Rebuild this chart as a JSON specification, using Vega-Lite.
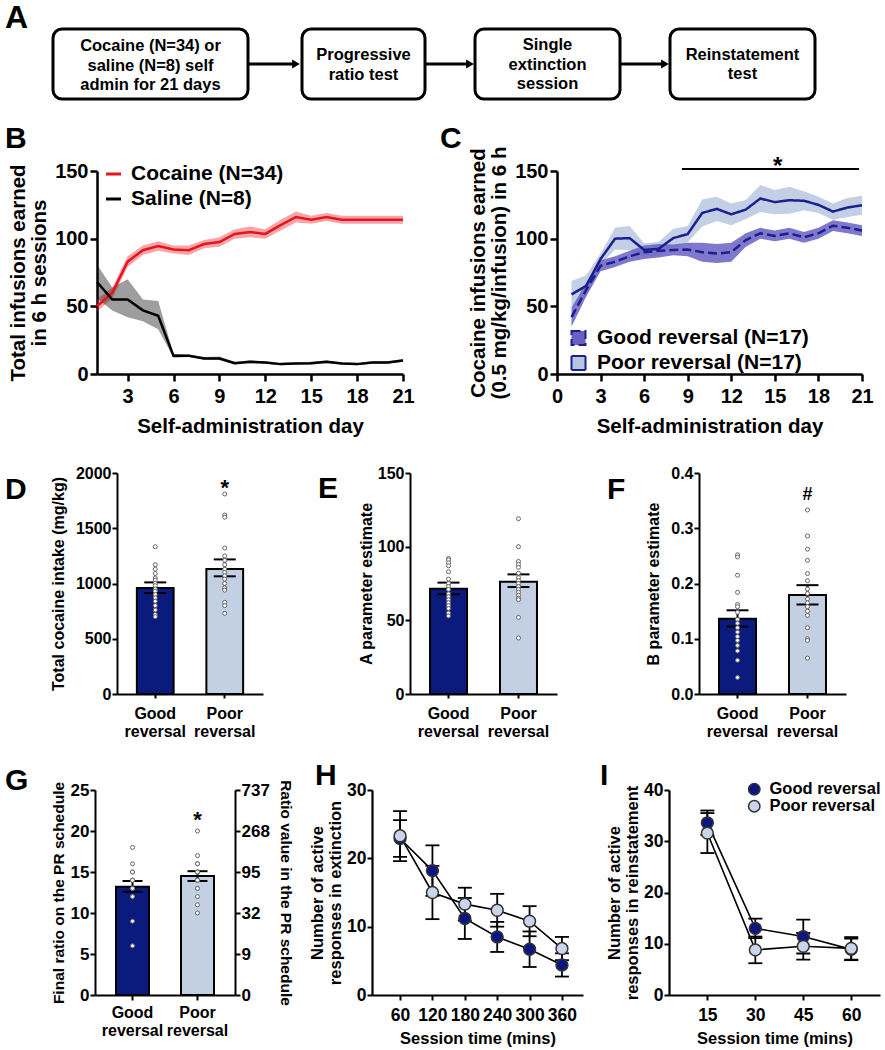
{
  "$schema": "https://vega.github.io/schema/vega-lite/v6.json",
  "padding": {"left": 5, "top": 0, "right": 0, "bottom": 0},
  "background": "white",
  "spacing": 22,
  "resolve": {"scale": {"color": "independent", "fill": "independent", "strokeDash": "independent"}},
  "config": {
    "font": "Liberation Sans",
    "view": {"stroke": null},
    "axis": {"domainColor": "black", "tickColor": "black", "labelColor": "black", "titleColor": "black", "labelFontWeight": "bold", "titleFontWeight": "bold", "grid": false, "labelFont": "Liberation Sans", "titleFont": "Liberation Sans"},
    "legend": {"labelFont": "Liberation Sans", "labelColor": "black", "labelLimit": 400},
    "title": {"font": "Liberation Sans", "color": "black"}
  },
  "vconcat": [
    {
      "width": 880, "height": 100,
      "layer": [
        {
          "data": {"values": [
            {"x1": 48, "x2": 243, "y1": 29, "y2": 99},
            {"x1": 297, "x2": 420, "y1": 29, "y2": 99},
            {"x1": 470, "x2": 615, "y1": 29, "y2": 99},
            {"x1": 665, "x2": 810, "y1": 29, "y2": 99}
          ]},
          "mark": {"type": "rect", "fill": "white", "stroke": "black", "strokeWidth": 3, "cornerRadius": 9},
          "encoding": {
            "x": {"field": "x1", "type": "quantitative", "scale": {"domain": [0, 880], "nice": false, "zero": false}, "axis": null},
            "x2": {"field": "x2"},
            "y": {"field": "y1", "type": "quantitative", "scale": {"domain": [0, 100], "nice": false, "zero": false, "reverse": true}, "axis": null},
            "y2": {"field": "y2"}
          }
        },
        {
          "data": {"values": [
            {"x1": 243, "x2": 289, "y": 64},
            {"x1": 420, "x2": 463, "y": 64},
            {"x1": 615, "x2": 658, "y": 64}
          ]},
          "mark": {"type": "rule", "strokeWidth": 3, "color": "black"},
          "encoding": {
            "x": {"field": "x1", "type": "quantitative"},
            "x2": {"field": "x2"},
            "y": {"field": "y", "type": "quantitative"}
          }
        },
        {
          "data": {"values": [
            {"x": 291, "y": 64},
            {"x": 465, "y": 64},
            {"x": 660, "y": 64}
          ]},
          "mark": {"type": "point", "shape": "triangle-right", "filled": true, "color": "black", "size": 80, "opacity": 1},
          "encoding": {
            "x": {"field": "x", "type": "quantitative"},
            "y": {"field": "y", "type": "quantitative"}
          }
        },
        {
          "data": {"values": [
            {"x": 145.5, "y": 46, "t": "Cocaine (N=34) or\nsaline (N=8) self\nadmin for 21 days"},
            {"x": 358.5, "y": 55, "t": "Progressive\nratio test"},
            {"x": 542.5, "y": 45, "t": "Single\nextinction\nsession"},
            {"x": 737.5, "y": 54.5, "t": "Reinstatement\ntest"}
          ]},
          "mark": {"type": "text", "lineBreak": "\n", "fontSize": 16.5, "fontWeight": "bold", "lineHeight": 19.5, "align": "center", "baseline": "middle", "color": "black"},
          "encoding": {
            "x": {"field": "x", "type": "quantitative"},
            "y": {"field": "y", "type": "quantitative"},
            "text": {"field": "t"}
          }
        },
        {
          "data": {"values": [{"x": 0, "y": 17.5, "t": "A"}]},
          "mark": {"type": "text", "fontSize": 32, "fontWeight": "bold", "align": "left", "baseline": "middle", "color": "black"},
          "encoding": {
            "x": {"field": "x", "type": "quantitative"},
            "y": {"field": "y", "type": "quantitative"},
            "text": {"field": "t"}
          }
        }
      ]
    },
    {
      "bounds": "flush",
      "spacing": 0,
      "resolve": {"scale": {"color": "independent", "fill": "independent", "strokeDash": "independent"}},
      "hconcat": [
        {"width": 92, "height": 1, "data": {"values": [{}]}, "mark": {"type": "text", "text": ""}},
        {
          "width": 306, "height": 203,
          "title": {"text": "B", "anchor": "start", "frame": "group", "dx": -92, "dy": 16.5, "offset": 0, "baseline": "alphabetic", "fontSize": 30, "fontWeight": "bold"},
          "data": {"values": [
            {"g": "Cocaine (N=34)", "d": 1, "m": 50, "lo": 46, "hi": 55},
            {"g": "Cocaine (N=34)", "d": 2, "m": 60, "lo": 56, "hi": 64},
            {"g": "Cocaine (N=34)", "d": 3, "m": 83, "lo": 79, "hi": 87},
            {"g": "Cocaine (N=34)", "d": 4, "m": 91.5, "lo": 88, "hi": 95},
            {"g": "Cocaine (N=34)", "d": 5, "m": 94.5, "lo": 91, "hi": 98},
            {"g": "Cocaine (N=34)", "d": 6, "m": 92, "lo": 89, "hi": 95},
            {"g": "Cocaine (N=34)", "d": 7, "m": 91.5, "lo": 88, "hi": 95},
            {"g": "Cocaine (N=34)", "d": 8, "m": 96, "lo": 93, "hi": 99},
            {"g": "Cocaine (N=34)", "d": 9, "m": 97.5, "lo": 94, "hi": 101},
            {"g": "Cocaine (N=34)", "d": 10, "m": 103.5, "lo": 100, "hi": 107},
            {"g": "Cocaine (N=34)", "d": 11, "m": 105, "lo": 101, "hi": 109},
            {"g": "Cocaine (N=34)", "d": 12, "m": 103.5, "lo": 100, "hi": 107},
            {"g": "Cocaine (N=34)", "d": 13, "m": 110, "lo": 106, "hi": 114},
            {"g": "Cocaine (N=34)", "d": 14, "m": 116, "lo": 112, "hi": 120},
            {"g": "Cocaine (N=34)", "d": 15, "m": 114, "lo": 111, "hi": 117},
            {"g": "Cocaine (N=34)", "d": 16, "m": 116, "lo": 113, "hi": 119},
            {"g": "Cocaine (N=34)", "d": 17, "m": 114, "lo": 111, "hi": 117},
            {"g": "Cocaine (N=34)", "d": 18, "m": 114, "lo": 111, "hi": 117},
            {"g": "Cocaine (N=34)", "d": 19, "m": 114, "lo": 111, "hi": 117},
            {"g": "Cocaine (N=34)", "d": 20, "m": 114, "lo": 111, "hi": 117},
            {"g": "Cocaine (N=34)", "d": 21, "m": 114, "lo": 111, "hi": 117},
            {"g": "Saline (N=8)", "d": 1, "m": 68, "lo": 56, "hi": 81},
            {"g": "Saline (N=8)", "d": 2, "m": 55, "lo": 47, "hi": 64},
            {"g": "Saline (N=8)", "d": 3, "m": 55, "lo": 42, "hi": 70},
            {"g": "Saline (N=8)", "d": 4, "m": 47, "lo": 39, "hi": 55},
            {"g": "Saline (N=8)", "d": 5, "m": 43, "lo": 33, "hi": 54},
            {"g": "Saline (N=8)", "d": 6, "m": 13.4, "lo": 12, "hi": 15},
            {"g": "Saline (N=8)", "d": 7, "m": 13.4, "lo": 12.5, "hi": 14.5},
            {"g": "Saline (N=8)", "d": 8, "m": 11.5, "lo": 10.5, "hi": 12.5},
            {"g": "Saline (N=8)", "d": 9, "m": 11.5, "lo": 10.5, "hi": 13},
            {"g": "Saline (N=8)", "d": 10, "m": 8, "lo": 7, "hi": 9},
            {"g": "Saline (N=8)", "d": 11, "m": 9, "lo": 8, "hi": 10},
            {"g": "Saline (N=8)", "d": 12, "m": 8.5, "lo": 7.5, "hi": 9.5},
            {"g": "Saline (N=8)", "d": 13, "m": 7.3, "lo": 6.5, "hi": 8.2},
            {"g": "Saline (N=8)", "d": 14, "m": 7.8, "lo": 7, "hi": 8.6},
            {"g": "Saline (N=8)", "d": 15, "m": 8, "lo": 7, "hi": 9},
            {"g": "Saline (N=8)", "d": 16, "m": 9, "lo": 8, "hi": 10},
            {"g": "Saline (N=8)", "d": 17, "m": 7.8, "lo": 7, "hi": 8.6},
            {"g": "Saline (N=8)", "d": 18, "m": 7.3, "lo": 6.5, "hi": 8.2},
            {"g": "Saline (N=8)", "d": 19, "m": 8.5, "lo": 7.5, "hi": 9.5},
            {"g": "Saline (N=8)", "d": 20, "m": 8.5, "lo": 7.5, "hi": 9.5},
            {"g": "Saline (N=8)", "d": 21, "m": 10, "lo": 9, "hi": 11}
          ]},
          "encoding": {
            "x": {"field": "d", "type": "quantitative", "title": ["Self-administration day", " "], "scale": {"domain": [1, 21], "nice": false, "zero": false},
              "axis": {"values": [3, 6, 9, 12, 15, 18, 21], "labelFontSize": 20, "titleFontSize": 20.5, "titleLineHeight": 6, "domainWidth": 2.5, "tickWidth": 2.5, "tickSize": 7, "labelPadding": 5.5, "titlePadding": 10, "labelFlush": false}}
          },
          "layer": [
            {
              "mark": {"type": "area", "opacity": 0.38},
              "encoding": {
                "y": {"field": "lo", "type": "quantitative", "title": ["Total infusions earned", "in 6 h sessions"], "scale": {"domain": [0, 150], "nice": false},
                  "axis": {"values": [0, 50, 100, 150], "labelFontSize": 20, "titleFontSize": 20.5, "domainWidth": 2.5, "tickWidth": 2.5, "tickSize": 7, "labelPadding": 2, "titlePadding": 5, "titleLineHeight": 21}},
                "y2": {"field": "hi"},
                "fill": {"field": "g", "type": "nominal", "scale": {"domain": ["Cocaine (N=34)", "Saline (N=8)"], "range": ["#e8141c", "#000000"]},
                  "legend": {"orient": "none", "legendX": 6, "legendY": -7.5, "title": null, "symbolType": "stroke", "symbolStrokeWidth": 3, "symbolSize": 225, "symbolOpacity": 1, "labelFontSize": 21, "labelFontWeight": "bold", "labelOffset": 7, "rowPadding": 3, "padding": 0}}
              }
            },
            {
              "mark": {"type": "line", "strokeWidth": 2.5},
              "encoding": {
                "y": {"field": "m", "type": "quantitative", "title": ["Total infusions earned", "in 6 h sessions"]},
                "color": {"field": "g", "type": "nominal", "scale": {"domain": ["Cocaine (N=34)", "Saline (N=8)"], "range": ["#e8141c", "#000000"]}, "legend": null}
              }
            }
          ]
        },
        {"width": 154, "height": 1, "data": {"values": [{}]}, "mark": {"type": "text", "text": ""}},
        {
          "width": 305, "height": 203,
          "title": {"text": "C", "anchor": "start", "frame": "group", "dx": -117, "dy": 31.5, "offset": 0, "baseline": "alphabetic", "fontSize": 30, "fontWeight": "bold"},
          "layer": [
            {
              "data": {"values": [
                {"g": "Poor reversal (N=17)", "d": 1, "m": 58.8, "lo": 48.8, "hi": 68.8},
                {"g": "Poor reversal (N=17)", "d": 2, "m": 65, "lo": 57, "hi": 73},
                {"g": "Poor reversal (N=17)", "d": 3, "m": 85, "lo": 81, "hi": 89},
                {"g": "Poor reversal (N=17)", "d": 4, "m": 100, "lo": 92, "hi": 108},
                {"g": "Poor reversal (N=17)", "d": 5, "m": 100.4, "lo": 91.4, "hi": 109.4},
                {"g": "Poor reversal (N=17)", "d": 6, "m": 91.7, "lo": 86.7, "hi": 96.7},
                {"g": "Poor reversal (N=17)", "d": 7, "m": 92.5, "lo": 87.5, "hi": 97.5},
                {"g": "Poor reversal (N=17)", "d": 8, "m": 100.4, "lo": 93.4, "hi": 107.4},
                {"g": "Poor reversal (N=17)", "d": 9, "m": 103.4, "lo": 97.4, "hi": 109.4},
                {"g": "Poor reversal (N=17)", "d": 10, "m": 119, "lo": 109, "hi": 129},
                {"g": "Poor reversal (N=17)", "d": 11, "m": 122, "lo": 113, "hi": 131},
                {"g": "Poor reversal (N=17)", "d": 12, "m": 118, "lo": 110, "hi": 126},
                {"g": "Poor reversal (N=17)", "d": 13, "m": 121.5, "lo": 114.5, "hi": 128.5},
                {"g": "Poor reversal (N=17)", "d": 14, "m": 129.7, "lo": 119.7, "hi": 139.7},
                {"g": "Poor reversal (N=17)", "d": 15, "m": 127, "lo": 118, "hi": 136},
                {"g": "Poor reversal (N=17)", "d": 16, "m": 128.4, "lo": 118.4, "hi": 138.4},
                {"g": "Poor reversal (N=17)", "d": 17, "m": 128, "lo": 121, "hi": 135},
                {"g": "Poor reversal (N=17)", "d": 18, "m": 125, "lo": 119, "hi": 131},
                {"g": "Poor reversal (N=17)", "d": 19, "m": 120, "lo": 114, "hi": 126},
                {"g": "Poor reversal (N=17)", "d": 20, "m": 123, "lo": 116, "hi": 130},
                {"g": "Poor reversal (N=17)", "d": 21, "m": 124.7, "lo": 117.7, "hi": 131.7},
                {"g": "Good reversal (N=17)", "d": 1, "m": 42, "lo": 35, "hi": 49},
                {"g": "Good reversal (N=17)", "d": 2, "m": 62, "lo": 57, "hi": 67},
                {"g": "Good reversal (N=17)", "d": 3, "m": 80, "lo": 76, "hi": 84},
                {"g": "Good reversal (N=17)", "d": 4, "m": 83, "lo": 79, "hi": 87},
                {"g": "Good reversal (N=17)", "d": 5, "m": 87, "lo": 83, "hi": 91},
                {"g": "Good reversal (N=17)", "d": 6, "m": 90, "lo": 85, "hi": 95},
                {"g": "Good reversal (N=17)", "d": 7, "m": 91, "lo": 86, "hi": 96},
                {"g": "Good reversal (N=17)", "d": 8, "m": 91.7, "lo": 87.7, "hi": 95.7},
                {"g": "Good reversal (N=17)", "d": 9, "m": 92, "lo": 87, "hi": 97},
                {"g": "Good reversal (N=17)", "d": 10, "m": 90, "lo": 83, "hi": 97},
                {"g": "Good reversal (N=17)", "d": 11, "m": 89, "lo": 82, "hi": 96},
                {"g": "Good reversal (N=17)", "d": 12, "m": 90, "lo": 83, "hi": 97},
                {"g": "Good reversal (N=17)", "d": 13, "m": 99, "lo": 94, "hi": 104},
                {"g": "Good reversal (N=17)", "d": 14, "m": 104, "lo": 100, "hi": 108},
                {"g": "Good reversal (N=17)", "d": 15, "m": 102, "lo": 98, "hi": 106},
                {"g": "Good reversal (N=17)", "d": 16, "m": 104, "lo": 100, "hi": 108},
                {"g": "Good reversal (N=17)", "d": 17, "m": 101, "lo": 97, "hi": 105},
                {"g": "Good reversal (N=17)", "d": 18, "m": 104, "lo": 100, "hi": 108},
                {"g": "Good reversal (N=17)", "d": 19, "m": 109.6, "lo": 105.6, "hi": 113.6},
                {"g": "Good reversal (N=17)", "d": 20, "m": 108, "lo": 104, "hi": 112},
                {"g": "Good reversal (N=17)", "d": 21, "m": 106, "lo": 102, "hi": 110}
              ]},
              "layer": [
                {
                  "mark": {"type": "area", "opacity": 0.85},
                  "encoding": {
                    "x": {"field": "d", "type": "quantitative", "title": ["Self-administration day", " "], "scale": {"domain": [0, 21], "nice": false, "zero": false},
                      "axis": {"values": [0, 3, 6, 9, 12, 15, 18, 21], "labelFontSize": 20, "titleFontSize": 20.5, "titleLineHeight": 6, "domainWidth": 2.5, "tickWidth": 2.5, "tickSize": 7, "labelPadding": 5.5, "titlePadding": 10, "labelFlush": false}},
                    "y": {"field": "lo", "type": "quantitative", "title": ["Cocaine infusions earned", "(0.5 mg/kg/infusion) in 6 h"], "scale": {"domain": [0, 150], "nice": false},
                      "axis": {"values": [0, 50, 100, 150], "labelFontSize": 20, "titleFontSize": 20.5, "domainWidth": 2.5, "tickWidth": 2.5, "tickSize": 7, "labelPadding": 2, "titlePadding": 5, "titleLineHeight": 21}},
                    "y2": {"field": "hi"},
                    "fill": {"field": "g", "type": "nominal", "scale": {"domain": ["Good reversal (N=17)", "Poor reversal (N=17)"], "range": ["#6a60c4", "#b7c7df"]},
                      "legend": {"orient": "none", "legendX": 11, "legendY": 156.5, "title": null, "symbolType": "square", "symbolSize": 196, "symbolStrokeColor": "#1b1f8f", "symbolStrokeWidth": 2, "symbolOpacity": 1, "labelFontSize": 21, "labelFontWeight": "bold", "labelOffset": 8, "rowPadding": 2, "padding": 0}}
                  }
                },
                {
                  "mark": {"type": "line", "strokeWidth": 2.5, "color": "#1b1f8f"},
                  "encoding": {
                    "x": {"field": "d", "type": "quantitative", "title": ["Self-administration day", " "]},
                    "y": {"field": "m", "type": "quantitative", "title": ["Cocaine infusions earned", "(0.5 mg/kg/infusion) in 6 h"]},
                    "strokeDash": {"field": "g", "type": "nominal", "scale": {"domain": ["Good reversal (N=17)", "Poor reversal (N=17)"], "range": [[9, 4], [1, 0]]}, "legend": null}
                  }
                }
              ]
            },
            {
              "data": {"values": [{"x1": 8.6, "x2": 20.8, "y": 151.5}]},
              "mark": {"type": "rule", "strokeWidth": 2, "color": "black"},
              "encoding": {
                "x": {"field": "x1", "type": "quantitative", "title": ["Self-administration day", " "]},
                "x2": {"field": "x2"},
                "y": {"field": "y", "type": "quantitative", "title": ["Cocaine infusions earned", "(0.5 mg/kg/infusion) in 6 h"]}
              }
            },
            {
              "data": {"values": [{"x": 15.2, "y": 153, "t": "*"}]},
              "mark": {"type": "text", "fontSize": 24, "fontWeight": "bold", "baseline": "middle", "align": "center", "color": "black"},
              "encoding": {
                "x": {"field": "x", "type": "quantitative", "title": ["Self-administration day", " "]},
                "y": {"field": "y", "type": "quantitative", "title": ["Cocaine infusions earned", "(0.5 mg/kg/infusion) in 6 h"]},
                "text": {"field": "t"}
              }
            }
          ]
        }
      ]
    },
    {
      "bounds": "flush",
      "spacing": 0,
      "resolve": {"scale": {"color": "independent", "fill": "independent", "strokeDash": "independent"}},
      "hconcat": [
        {"width": 112, "height": 1, "data": {"values": [{}]}, "mark": {"type": "text", "text": ""}},
        {
          "width": 146, "height": 221,
          "title": {"text": "D", "anchor": "start", "frame": "group", "dx": -112, "dy": 64, "offset": 0, "baseline": "alphabetic", "fontSize": 30, "fontWeight": "bold"},
          "encoding": {
            "x": {"field": "g", "type": "nominal", "title": null, "scale": {"domain": ["Good reversal", "Poor reversal"], "paddingInner": 0.471, "paddingOuter": 0.286},
              "axis": {"labelExpr": "split(datum.label, ' ')", "labelAngle": 0, "labelFontSize": 16, "labelLineHeight": 18, "domainWidth": 2, "tickWidth": 2, "tickSize": 4, "labelPadding": 7}}
          },
          "layer": [
            {
              "data": {"values": [
                {"g": "Good reversal", "m": 959, "lo": 913, "hi": 1010},
                {"g": "Poor reversal", "m": 1132, "lo": 1065, "hi": 1218}
              ]},
              "layer": [
                {
                  "mark": {"type": "bar", "stroke": "black", "strokeWidth": 2},
                  "encoding": {
                    "y": {"field": "m", "type": "quantitative", "title": "Total cocaine intake (mg/kg)", "scale": {"domain": [0, 2000], "nice": false},
                      "axis": {"values": [0, 500, 1000, 1500, 2000], "format": "d", "labelFontSize": 16, "titleFontSize": 16, "domainWidth": 2, "tickWidth": 2, "tickSize": 5, "labelPadding": 1, "titlePadding": 9}},
                    "fill": {"field": "g", "type": "nominal", "scale": {"domain": ["Good reversal", "Poor reversal"], "range": ["#0b1a7d", "#c3cfe2"]}, "legend": null}
                  }
                },
                {
                  "mark": {"type": "rule", "strokeWidth": 2, "color": "black"},
                  "encoding": {"y": {"field": "lo", "type": "quantitative", "title": "Total cocaine intake (mg/kg)"}, "y2": {"field": "hi"}}
                },
                {
                  "mark": {"type": "tick", "thickness": 2, "size": 22, "color": "black", "opacity": 1},
                  "encoding": {"y": {"field": "lo", "type": "quantitative", "title": "Total cocaine intake (mg/kg)"}}
                },
                {
                  "mark": {"type": "tick", "thickness": 2, "size": 22, "color": "black", "opacity": 1},
                  "encoding": {"y": {"field": "hi", "type": "quantitative", "title": "Total cocaine intake (mg/kg)"}}
                }
              ]
            },
            {
              "data": {"values": [
                {"g": "Good reversal", "v": 1333}, {"g": "Good reversal", "v": 1170}, {"g": "Good reversal", "v": 1130}, {"g": "Good reversal", "v": 1090},
                {"g": "Good reversal", "v": 1050}, {"g": "Good reversal", "v": 1030}, {"g": "Good reversal", "v": 1000}, {"g": "Good reversal", "v": 980},
                {"g": "Good reversal", "v": 950}, {"g": "Good reversal", "v": 930}, {"g": "Good reversal", "v": 900}, {"g": "Good reversal", "v": 870},
                {"g": "Good reversal", "v": 840}, {"g": "Good reversal", "v": 800}, {"g": "Good reversal", "v": 760}, {"g": "Good reversal", "v": 720},
                {"g": "Good reversal", "v": 700},
                {"g": "Poor reversal", "v": 1810}, {"g": "Poor reversal", "v": 1620}, {"g": "Poor reversal", "v": 1600}, {"g": "Poor reversal", "v": 1320},
                {"g": "Poor reversal", "v": 1250}, {"g": "Poor reversal", "v": 1210}, {"g": "Poor reversal", "v": 1170}, {"g": "Poor reversal", "v": 1130},
                {"g": "Poor reversal", "v": 1100}, {"g": "Poor reversal", "v": 1070}, {"g": "Poor reversal", "v": 1040}, {"g": "Poor reversal", "v": 1000},
                {"g": "Poor reversal", "v": 960}, {"g": "Poor reversal", "v": 940}, {"g": "Poor reversal", "v": 830}, {"g": "Poor reversal", "v": 800},
                {"g": "Poor reversal", "v": 730}
              ]},
              "mark": {"type": "point", "shape": "circle", "fill": "white", "stroke": "#666666", "strokeWidth": 1, "size": 16, "opacity": 1},
              "encoding": {"y": {"field": "v", "type": "quantitative", "title": "Total cocaine intake (mg/kg)"}}
            },
            {
              "data": {"values": [{"g": "Poor reversal", "v": 1864, "t": "*"}]},
              "mark": {"type": "text", "fontSize": 22, "fontWeight": "bold", "baseline": "middle", "color": "black"},
              "encoding": {"y": {"field": "v", "type": "quantitative", "title": "Total cocaine intake (mg/kg)"}, "text": {"field": "t"}}
            }
          ]
        },
        {"width": 147, "height": 1, "data": {"values": [{}]}, "mark": {"type": "text", "text": ""}},
        {
          "width": 147, "height": 221,
          "title": {"text": "E", "anchor": "start", "frame": "group", "dx": -92, "dy": 63, "offset": 0, "baseline": "alphabetic", "fontSize": 30, "fontWeight": "bold"},
          "encoding": {
            "x": {"field": "g", "type": "nominal", "title": null, "scale": {"domain": ["Good reversal", "Poor reversal"], "paddingInner": 0.471, "paddingOuter": 0.286},
              "axis": {"labelExpr": "split(datum.label, ' ')", "labelAngle": 0, "labelFontSize": 16, "labelLineHeight": 18, "domainWidth": 2, "tickWidth": 2, "tickSize": 4, "labelPadding": 7}}
          },
          "layer": [
            {
              "data": {"values": [
                {"g": "Good reversal", "m": 71.5, "lo": 67.7, "hi": 75.6},
                {"g": "Poor reversal", "m": 76.2, "lo": 72.6, "hi": 81.2}
              ]},
              "layer": [
                {
                  "mark": {"type": "bar", "stroke": "black", "strokeWidth": 2},
                  "encoding": {
                    "y": {"field": "m", "type": "quantitative", "title": "A parameter estimate", "scale": {"domain": [0, 150], "nice": false},
                      "axis": {"values": [0, 50, 100, 150], "labelFontSize": 16, "titleFontSize": 16, "domainWidth": 2, "tickWidth": 2, "tickSize": 5, "labelPadding": 1, "titlePadding": 3}},
                    "fill": {"field": "g", "type": "nominal", "scale": {"domain": ["Good reversal", "Poor reversal"], "range": ["#0b1a7d", "#c3cfe2"]}, "legend": null}
                  }
                },
                {
                  "mark": {"type": "rule", "strokeWidth": 2, "color": "black"},
                  "encoding": {"y": {"field": "lo", "type": "quantitative", "title": "A parameter estimate"}, "y2": {"field": "hi"}}
                },
                {
                  "mark": {"type": "tick", "thickness": 2, "size": 22, "color": "black", "opacity": 1},
                  "encoding": {"y": {"field": "lo", "type": "quantitative", "title": "A parameter estimate"}}
                },
                {
                  "mark": {"type": "tick", "thickness": 2, "size": 22, "color": "black", "opacity": 1},
                  "encoding": {"y": {"field": "hi", "type": "quantitative", "title": "A parameter estimate"}}
                }
              ]
            },
            {
              "data": {"values": [
                {"g": "Good reversal", "v": 92}, {"g": "Good reversal", "v": 91}, {"g": "Good reversal", "v": 89}, {"g": "Good reversal", "v": 87},
                {"g": "Good reversal", "v": 83}, {"g": "Good reversal", "v": 78}, {"g": "Good reversal", "v": 75}, {"g": "Good reversal", "v": 73},
                {"g": "Good reversal", "v": 71}, {"g": "Good reversal", "v": 68}, {"g": "Good reversal", "v": 66}, {"g": "Good reversal", "v": 64},
                {"g": "Good reversal", "v": 62}, {"g": "Good reversal", "v": 60}, {"g": "Good reversal", "v": 58}, {"g": "Good reversal", "v": 55},
                {"g": "Good reversal", "v": 53},
                {"g": "Poor reversal", "v": 119}, {"g": "Poor reversal", "v": 100}, {"g": "Poor reversal", "v": 90}, {"g": "Poor reversal", "v": 88},
                {"g": "Poor reversal", "v": 86}, {"g": "Poor reversal", "v": 82}, {"g": "Poor reversal", "v": 79}, {"g": "Poor reversal", "v": 77},
                {"g": "Poor reversal", "v": 75}, {"g": "Poor reversal", "v": 73}, {"g": "Poor reversal", "v": 71}, {"g": "Poor reversal", "v": 69},
                {"g": "Poor reversal", "v": 67}, {"g": "Poor reversal", "v": 65}, {"g": "Poor reversal", "v": 64}, {"g": "Poor reversal", "v": 52},
                {"g": "Poor reversal", "v": 38}
              ]},
              "mark": {"type": "point", "shape": "circle", "fill": "white", "stroke": "#666666", "strokeWidth": 1, "size": 16, "opacity": 1},
              "encoding": {"y": {"field": "v", "type": "quantitative", "title": "A parameter estimate"}}
            }
          ]
        },
        {"width": 142, "height": 1, "data": {"values": [{}]}, "mark": {"type": "text", "text": ""}},
        {
          "width": 147, "height": 221,
          "title": {"text": "F", "anchor": "start", "frame": "group", "dx": -92, "dy": 64, "offset": 0, "baseline": "alphabetic", "fontSize": 30, "fontWeight": "bold"},
          "encoding": {
            "x": {"field": "g", "type": "nominal", "title": null, "scale": {"domain": ["Good reversal", "Poor reversal"], "paddingInner": 0.471, "paddingOuter": 0.286},
              "axis": {"labelExpr": "split(datum.label, ' ')", "labelAngle": 0, "labelFontSize": 16, "labelLineHeight": 18, "domainWidth": 2, "tickWidth": 2, "tickSize": 4, "labelPadding": 7}}
          },
          "layer": [
            {
              "data": {"values": [
                {"g": "Good reversal", "m": 0.136, "lo": 0.122, "hi": 0.1515},
                {"g": "Poor reversal", "m": 0.179, "lo": 0.162, "hi": 0.197}
              ]},
              "layer": [
                {
                  "mark": {"type": "bar", "stroke": "black", "strokeWidth": 2},
                  "encoding": {
                    "y": {"field": "m", "type": "quantitative", "title": "B parameter estimate", "scale": {"domain": [0, 0.4], "nice": false},
                      "axis": {"values": [0, 0.1, 0.2, 0.3, 0.4], "format": ".1f", "labelFontSize": 16, "titleFontSize": 16, "domainWidth": 2, "tickWidth": 2, "tickSize": 5, "labelPadding": 1, "titlePadding": 9}},
                    "fill": {"field": "g", "type": "nominal", "scale": {"domain": ["Good reversal", "Poor reversal"], "range": ["#0b1a7d", "#c3cfe2"]}, "legend": null}
                  }
                },
                {
                  "mark": {"type": "rule", "strokeWidth": 2, "color": "black"},
                  "encoding": {"y": {"field": "lo", "type": "quantitative", "title": "B parameter estimate"}, "y2": {"field": "hi"}}
                },
                {
                  "mark": {"type": "tick", "thickness": 2, "size": 22, "color": "black", "opacity": 1},
                  "encoding": {"y": {"field": "lo", "type": "quantitative", "title": "B parameter estimate"}}
                },
                {
                  "mark": {"type": "tick", "thickness": 2, "size": 22, "color": "black", "opacity": 1},
                  "encoding": {"y": {"field": "hi", "type": "quantitative", "title": "B parameter estimate"}}
                }
              ]
            },
            {
              "data": {"values": [
                {"g": "Good reversal", "v": 0.252}, {"g": "Good reversal", "v": 0.248}, {"g": "Good reversal", "v": 0.215}, {"g": "Good reversal", "v": 0.184},
                {"g": "Good reversal", "v": 0.162}, {"g": "Good reversal", "v": 0.158}, {"g": "Good reversal", "v": 0.148}, {"g": "Good reversal", "v": 0.135},
                {"g": "Good reversal", "v": 0.128}, {"g": "Good reversal", "v": 0.12}, {"g": "Good reversal", "v": 0.112}, {"g": "Good reversal", "v": 0.104},
                {"g": "Good reversal", "v": 0.097}, {"g": "Good reversal", "v": 0.088}, {"g": "Good reversal", "v": 0.078}, {"g": "Good reversal", "v": 0.061},
                {"g": "Good reversal", "v": 0.03},
                {"g": "Poor reversal", "v": 0.333}, {"g": "Poor reversal", "v": 0.286}, {"g": "Poor reversal", "v": 0.262}, {"g": "Poor reversal", "v": 0.242},
                {"g": "Poor reversal", "v": 0.218}, {"g": "Poor reversal", "v": 0.205}, {"g": "Poor reversal", "v": 0.19}, {"g": "Poor reversal", "v": 0.182},
                {"g": "Poor reversal", "v": 0.172}, {"g": "Poor reversal", "v": 0.165}, {"g": "Poor reversal", "v": 0.158}, {"g": "Poor reversal", "v": 0.15},
                {"g": "Poor reversal", "v": 0.142}, {"g": "Poor reversal", "v": 0.12}, {"g": "Poor reversal", "v": 0.1}, {"g": "Poor reversal", "v": 0.097},
                {"g": "Poor reversal", "v": 0.065}
              ]},
              "mark": {"type": "point", "shape": "circle", "fill": "white", "stroke": "#666666", "strokeWidth": 1, "size": 16, "opacity": 1},
              "encoding": {"y": {"field": "v", "type": "quantitative", "title": "B parameter estimate"}}
            },
            {
              "data": {"values": [{"g": "Poor reversal", "v": 0.36, "t": "#"}]},
              "mark": {"type": "text", "fontSize": 18, "fontWeight": "bold", "baseline": "middle", "color": "black"},
              "encoding": {"y": {"field": "v", "type": "quantitative", "title": "B parameter estimate"}, "text": {"field": "t"}}
            }
          ]
        }
      ]
    },
    {
      "bounds": "flush",
      "spacing": 0,
      "resolve": {"scale": {"color": "independent", "fill": "independent", "strokeDash": "independent"}},
      "hconcat": [
        {"width": 90, "height": 1, "data": {"values": [{}]}, "mark": {"type": "text", "text": ""}},
        {
          "width": 140, "height": 205,
          "title": {"text": "G", "anchor": "start", "frame": "group", "dx": -90, "dy": 40.4, "offset": 0, "baseline": "alphabetic", "fontSize": 30, "fontWeight": "bold"},
          "encoding": {
            "x": {"field": "g", "type": "nominal", "title": null, "scale": {"domain": ["Good reversal", "Poor reversal"], "paddingInner": 0.492, "paddingOuter": 0.323},
              "axis": {"labelExpr": "split(datum.label, ' ')", "labelAngle": 0, "labelFontSize": 16, "labelLineHeight": 18, "domainWidth": 2, "tickWidth": 2, "tickSize": 5, "labelPadding": 4}}
          },
          "layer": [
            {
              "layer": [
                {
                  "data": {"values": [
                    {"g": "Good reversal", "m": 13.2, "lo": 12.6, "hi": 13.9},
                    {"g": "Poor reversal", "m": 14.5, "lo": 13.9, "hi": 15.1}
                  ]},
                  "layer": [
                    {
                      "mark": {"type": "bar", "stroke": "black", "strokeWidth": 2},
                      "encoding": {
                        "y": {"field": "m", "type": "quantitative", "title": "Final ratio on the PR schedule", "scale": {"domain": [0, 25], "nice": false},
                          "axis": {"values": [0, 5, 10, 15, 20, 25], "labelFontSize": 17, "titleFontSize": 15.5, "domainWidth": 2, "tickWidth": 2, "tickSize": 5, "labelPadding": 1, "titlePadding": 4}},
                        "fill": {"field": "g", "type": "nominal", "scale": {"domain": ["Good reversal", "Poor reversal"], "range": ["#0b1a7d", "#c3cfe2"]}, "legend": null}
                      }
                    },
                    {
                      "mark": {"type": "rule", "strokeWidth": 2, "color": "black"},
                      "encoding": {"y": {"field": "lo", "type": "quantitative", "title": "Final ratio on the PR schedule"}, "y2": {"field": "hi"}}
                    },
                    {
                      "mark": {"type": "tick", "thickness": 2, "size": 20, "color": "black", "opacity": 1},
                      "encoding": {"y": {"field": "lo", "type": "quantitative", "title": "Final ratio on the PR schedule"}}
                    },
                    {
                      "mark": {"type": "tick", "thickness": 2, "size": 20, "color": "black", "opacity": 1},
                      "encoding": {"y": {"field": "hi", "type": "quantitative", "title": "Final ratio on the PR schedule"}}
                    }
                  ]
                },
                {
                  "data": {"values": [
                    {"g": "Good reversal", "v": 18}, {"g": "Good reversal", "v": 16}, {"g": "Good reversal", "v": 15}, {"g": "Good reversal", "v": 15},
                    {"g": "Good reversal", "v": 14}, {"g": "Good reversal", "v": 14}, {"g": "Good reversal", "v": 14}, {"g": "Good reversal", "v": 13},
                    {"g": "Good reversal", "v": 13}, {"g": "Good reversal", "v": 13}, {"g": "Good reversal", "v": 13}, {"g": "Good reversal", "v": 12},
                    {"g": "Good reversal", "v": 12}, {"g": "Good reversal", "v": 9}, {"g": "Good reversal", "v": 6},
                    {"g": "Poor reversal", "v": 20}, {"g": "Poor reversal", "v": 17}, {"g": "Poor reversal", "v": 16}, {"g": "Poor reversal", "v": 16},
                    {"g": "Poor reversal", "v": 15}, {"g": "Poor reversal", "v": 15}, {"g": "Poor reversal", "v": 15}, {"g": "Poor reversal", "v": 15},
                    {"g": "Poor reversal", "v": 14}, {"g": "Poor reversal", "v": 14}, {"g": "Poor reversal", "v": 14}, {"g": "Poor reversal", "v": 13},
                    {"g": "Poor reversal", "v": 13}, {"g": "Poor reversal", "v": 12}, {"g": "Poor reversal", "v": 11}, {"g": "Poor reversal", "v": 10}
                  ]},
                  "mark": {"type": "point", "shape": "circle", "fill": "white", "stroke": "#666666", "strokeWidth": 1, "size": 16, "opacity": 1},
                  "encoding": {"y": {"field": "v", "type": "quantitative", "title": "Final ratio on the PR schedule"}}
                },
                {
                  "data": {"values": [{"g": "Poor reversal", "v": 21.3, "t": "*"}]},
                  "mark": {"type": "text", "fontSize": 22, "fontWeight": "bold", "baseline": "middle", "color": "black"},
                  "encoding": {"y": {"field": "v", "type": "quantitative", "title": "Final ratio on the PR schedule"}, "text": {"field": "t"}}
                }
              ]
            },
            {
              "data": {"values": [{"v": 0}]},
              "mark": {"type": "point", "opacity": 0},
              "encoding": {
                "y": {"field": "v", "type": "quantitative", "title": "Ratio value in the PR schedule", "scale": {"domain": [0, 25], "nice": false},
                  "axis": {"orient": "right", "values": [0, 5, 10, 15, 20, 25], "labelExpr": "datum.value == 25 ? '737' : datum.value == 20 ? '268' : datum.value == 15 ? '95' : datum.value == 10 ? '32' : datum.value == 5 ? '9' : '0'", "labelFontSize": 17, "titleFontSize": 15.5, "domainWidth": 2, "tickWidth": 2, "tickSize": 5, "labelPadding": 1, "titlePadding": 8}}
              }
            }
          ],
          "resolve": {"scale": {"y": "independent"}}
        },
        {"width": 137, "height": 1, "data": {"values": [{}]}, "mark": {"type": "text", "text": ""}},
        {
          "width": 211, "height": 205,
          "title": {"text": "H", "anchor": "start", "frame": "group", "dx": -57, "dy": 34, "offset": 0, "baseline": "alphabetic", "fontSize": 30, "fontWeight": "bold"},
          "data": {"values": [
            {"t": 60, "g": "Good reversal", "m": 22.9, "lo": 20.2, "hi": 25.6},
            {"t": 120, "g": "Good reversal", "m": 18.2, "lo": 14.5, "hi": 21.9},
            {"t": 180, "g": "Good reversal", "m": 11.2, "lo": 8.2, "hi": 14.2},
            {"t": 240, "g": "Good reversal", "m": 8.5, "lo": 6.3, "hi": 10.7},
            {"t": 300, "g": "Good reversal", "m": 6.7, "lo": 4.1, "hi": 9.3},
            {"t": 360, "g": "Good reversal", "m": 4.4, "lo": 2.7, "hi": 6.1},
            {"t": 60, "g": "Poor reversal", "m": 23.3, "lo": 19.6, "hi": 26.9},
            {"t": 120, "g": "Poor reversal", "m": 15.0, "lo": 11.1, "hi": 18.9},
            {"t": 180, "g": "Poor reversal", "m": 13.3, "lo": 10.9, "hi": 15.7},
            {"t": 240, "g": "Poor reversal", "m": 12.4, "lo": 10.0, "hi": 14.8},
            {"t": 300, "g": "Poor reversal", "m": 10.8, "lo": 8.6, "hi": 13.0},
            {"t": 360, "g": "Poor reversal", "m": 6.8, "lo": 5.1, "hi": 8.5}
          ]},
          "encoding": {
            "x": {"field": "t", "type": "quantitative", "title": "Session time (mins)", "scale": {"domain": [8, 399], "nice": false, "zero": false},
              "axis": {"values": [60, 120, 180, 240, 300, 360], "labelFontSize": 17.5, "titleFontSize": 16.5, "domainWidth": 2.2, "tickWidth": 2, "tickSize": 5, "labelPadding": 6, "titlePadding": 7, "labelFlush": false}}
          },
          "layer": [
            {
              "mark": {"type": "line", "color": "black", "strokeWidth": 1.6},
              "encoding": {
                "y": {"field": "m", "type": "quantitative", "title": ["Number of active", "responses in extinction"], "scale": {"domain": [0, 30], "nice": false},
                  "axis": {"values": [0, 10, 20, 30], "labelFontSize": 17.5, "titleFontSize": 16.5, "domainWidth": 2.2, "tickWidth": 2, "tickSize": 5, "labelPadding": 1, "titlePadding": 3, "titleLineHeight": 18}},
                "detail": {"field": "g"}
              }
            },
            {
              "mark": {"type": "rule", "color": "black", "strokeWidth": 1.8},
              "encoding": {"y": {"field": "lo", "type": "quantitative", "title": ["Number of active", "responses in extinction"]}, "y2": {"field": "hi"}}
            },
            {
              "mark": {"type": "tick", "orient": "horizontal", "size": 14, "thickness": 1.8, "color": "black", "opacity": 1},
              "encoding": {"y": {"field": "lo", "type": "quantitative", "title": ["Number of active", "responses in extinction"]}}
            },
            {
              "mark": {"type": "tick", "orient": "horizontal", "size": 14, "thickness": 1.8, "color": "black", "opacity": 1},
              "encoding": {"y": {"field": "hi", "type": "quantitative", "title": ["Number of active", "responses in extinction"]}}
            },
            {
              "mark": {"type": "point", "shape": "circle", "filled": true, "stroke": "#333333", "strokeWidth": 1.5, "size": 140, "opacity": 1},
              "encoding": {
                "y": {"field": "m", "type": "quantitative", "title": ["Number of active", "responses in extinction"]},
                "fill": {"field": "g", "type": "nominal", "scale": {"domain": ["Good reversal", "Poor reversal"], "range": ["#0d1680", "#c9d5ea"]}, "legend": null}
              }
            }
          ]
        },
        {"width": 86, "height": 1, "data": {"values": [{}]}, "mark": {"type": "text", "text": ""}},
        {
          "width": 211, "height": 205,
          "title": {"text": "I", "anchor": "start", "frame": "group", "dx": -69, "dy": 34, "offset": 0, "baseline": "alphabetic", "fontSize": 30, "fontWeight": "bold"},
          "data": {"values": [
            {"t": 15, "g": "Good reversal", "m": 33.6, "lo": 31.2, "hi": 36.0},
            {"t": 30, "g": "Good reversal", "m": 13.0, "lo": 11.1, "hi": 14.9},
            {"t": 45, "g": "Good reversal", "m": 11.4, "lo": 8.1, "hi": 14.7},
            {"t": 60, "g": "Good reversal", "m": 8.9, "lo": 6.8, "hi": 11.0},
            {"t": 15, "g": "Poor reversal", "m": 31.6, "lo": 27.7, "hi": 35.5},
            {"t": 30, "g": "Poor reversal", "m": 8.8, "lo": 6.2, "hi": 11.4},
            {"t": 45, "g": "Poor reversal", "m": 9.5, "lo": 6.9, "hi": 12.1},
            {"t": 60, "g": "Poor reversal", "m": 9.1, "lo": 6.9, "hi": 11.3}
          ]},
          "encoding": {
            "x": {"field": "t", "type": "quantitative", "title": "Session time (mins)", "scale": {"domain": [3, 69], "nice": false, "zero": false},
              "axis": {"values": [15, 30, 45, 60], "labelFontSize": 17.5, "titleFontSize": 16.5, "domainWidth": 2.2, "tickWidth": 2, "tickSize": 5, "labelPadding": 6, "titlePadding": 7, "labelFlush": false}}
          },
          "layer": [
            {
              "mark": {"type": "line", "color": "black", "strokeWidth": 1.6},
              "encoding": {
                "y": {"field": "m", "type": "quantitative", "title": ["Number of active", "responses in reinstatement"], "scale": {"domain": [0, 40], "nice": false},
                  "axis": {"values": [0, 10, 20, 30, 40], "labelFontSize": 17.5, "titleFontSize": 16.5, "domainWidth": 2.2, "tickWidth": 2, "tickSize": 5, "labelPadding": 1, "titlePadding": 3, "titleLineHeight": 18}},
                "detail": {"field": "g"}
              }
            },
            {
              "mark": {"type": "rule", "color": "black", "strokeWidth": 1.8},
              "encoding": {"y": {"field": "lo", "type": "quantitative", "title": ["Number of active", "responses in reinstatement"]}, "y2": {"field": "hi"}}
            },
            {
              "mark": {"type": "tick", "orient": "horizontal", "size": 14, "thickness": 1.8, "color": "black", "opacity": 1},
              "encoding": {"y": {"field": "lo", "type": "quantitative", "title": ["Number of active", "responses in reinstatement"]}}
            },
            {
              "mark": {"type": "tick", "orient": "horizontal", "size": 14, "thickness": 1.8, "color": "black", "opacity": 1},
              "encoding": {"y": {"field": "hi", "type": "quantitative", "title": ["Number of active", "responses in reinstatement"]}}
            },
            {
              "mark": {"type": "point", "shape": "circle", "filled": true, "stroke": "#333333", "strokeWidth": 1.5, "size": 140, "opacity": 1},
              "encoding": {
                "y": {"field": "m", "type": "quantitative", "title": ["Number of active", "responses in reinstatement"]},
                "fill": {"field": "g", "type": "nominal", "scale": {"domain": ["Good reversal", "Poor reversal"], "range": ["#0d1680", "#c9d5ea"]},
                  "legend": {"orient": "none", "legendX": 77, "legendY": -9, "title": null, "symbolType": "circle", "symbolSize": 130, "symbolStrokeColor": "#333333", "symbolStrokeWidth": 1.5, "symbolOpacity": 1, "labelFontSize": 16.5, "labelFontWeight": "bold", "labelOffset": 7, "rowPadding": -1.5, "padding": 0}}
              }
            }
          ]
        }
      ]
    }
  ]
}
